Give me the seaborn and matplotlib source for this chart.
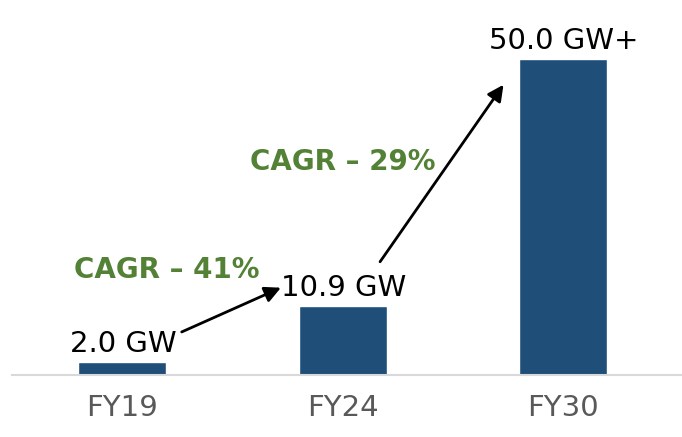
import matplotlib.pyplot as plt
import seaborn as sns
import pandas as pd

years = ['FY19', 'FY24', 'FY30']
capacity = [2.0, 10.9, 50.0]
value_labels = ['2.0 GW', '10.9 GW', '50.0 GW+']
cagr_labels = ['CAGR \u2013 41%', 'CAGR \u2013 29%']

sns.set_style('white')
plt.rcParams['font.family'] = ['DejaVu Sans']

df = pd.DataFrame({'year': years, 'gw': capacity})

fig = plt.figure(figsize=(6.82, 4.37), dpi=100)
ax = fig.add_axes([0.0176, 0.142, 0.9824, 0.858])
sns.barplot(data=df, x='year', y='gw', color='#1F4E79', width=0.4,
            saturation=1, ax=ax)

ax.set_xlim(-0.5, 2.54)
ax.set_ylim(0, 59.3)
sns.despine(ax=ax, left=True)
ax.spines['bottom'].set_color('#D9D9D9')
ax.spines['bottom'].set_linewidth(1.5)
ax.set_yticks([])
ax.set_xlabel('')
ax.set_ylabel('')
ax.tick_params(axis='x', length=0, pad=14, labelsize=21, labelcolor='#595959')

# value labels on top of bars
for i, (v, lab) in enumerate(zip(capacity, value_labels)):
    ax.text(i + 0.005, v + 1.6, lab, ha='center', va='baseline',
            fontsize=21, color='black')

# CAGR arrows
arrows = [((0.27, 6.8), (0.72, 13.8)), ((1.17, 17.9), (1.73, 45.9))]
for start, end in arrows:
    ax.annotate('', xy=end, xytext=start,
                arrowprops=dict(arrowstyle='-|>', color='black', lw=2,
                                mutation_scale=24, shrinkA=0, shrinkB=0))

cagr_pos = [(0.2, 15.3), (1.0, 32.4)]
for (x, y), lab in zip(cagr_pos, cagr_labels):
    ax.text(x, y, lab, ha='center', va='baseline', fontsize=20,
            fontweight='bold', color='#538135')

fig.savefig('out.png', dpi=100)
